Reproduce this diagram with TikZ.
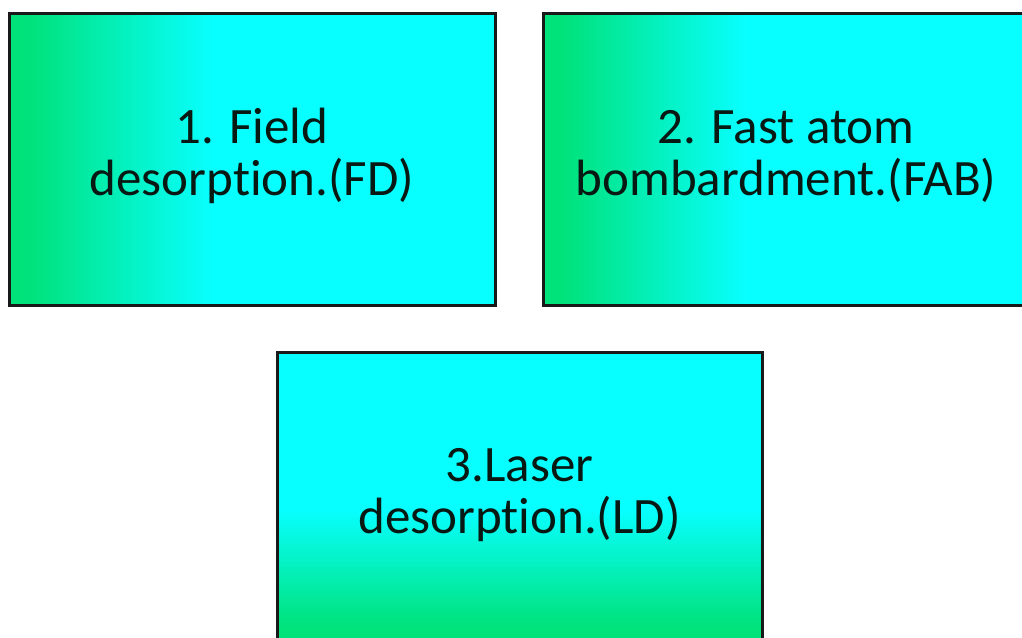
\documentclass[tikz,border=0pt]{standalone}
\usepackage{fontspec}
\setmainfont{Carlito}[Ligatures=NoCommon]
\definecolor{boxgreen}{RGB}{0,226,122}
\definecolor{boxcyan}{RGB}{8,255,255}
\definecolor{boxtext}{RGB}{8,24,18}
% left-to-right: green edge fading quickly into cyan
\pgfdeclarehorizontalshading{greencyanh}{100bp}{%
  color(0bp)=(boxgreen); color(27bp)=(boxgreen); color(46bp)=(boxcyan); color(100bp)=(boxcyan)}
% bottom-to-top: green base fading into cyan
\pgfdeclareverticalshading{greencyanv}{100bp}{%
  color(0bp)=(boxgreen); color(28bp)=(boxgreen); color(48bp)=(boxcyan); color(100bp)=(boxcyan)}
\begin{document}
\begin{tikzpicture}[x=1pt,y=-1pt,
  methodbox/.style={rectangle, draw=black!90, line width=3pt,
    minimum width=486pt, minimum height=292pt, inner sep=0pt},
  methodtext/.style={align=center, text=boxtext, inner sep=0pt,
    font=\fontsize{51}{52}\selectfont}]
  \useasboundingbox (0,0) rectangle (1022,637);
  \clip (0,0) rectangle (1022,637);
  \fill[white] (0,0) rectangle (1022,637);
  \node[methodbox, shading=greencyanh] (fd) at (252,159) {};
  \node[methodbox, shading=greencyanh] (fab) at (786,159) {};
  \node[methodbox, shading=greencyanv, minimum width=485pt] (ld) at (519.5,498) {};
  \node[methodtext] (fdtext) at ([yshift=3pt]fd.center) {1. Field\\desorption.(FD)};
  \node[methodtext] (fabtext) at ([yshift=3pt]fab.center) {2. Fast atom\\bombardment.(FAB)};
  \node[methodtext] (ldtext) at ([yshift=3pt]ld.center) {3.Laser\\desorption.(LD)};
\end{tikzpicture}
\end{document}
